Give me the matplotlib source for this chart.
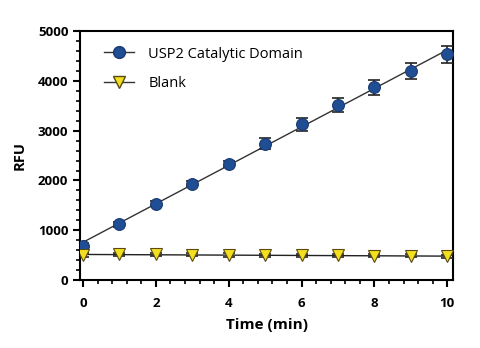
import matplotlib
matplotlib.use("Agg")
import matplotlib.pyplot as plt
import numpy as np
from matplotlib.ticker import MultipleLocator
from matplotlib.lines import Line2D

time = [0, 1, 2, 3, 4, 5, 6, 7, 8, 9, 10]
usp2 = [690, 1120, 1535, 1935, 2340, 2740, 3125, 3505, 3875, 4195, 4530]
usp2_err = [60, 50, 50, 50, 60, 110, 130, 140, 150, 160, 170]
blank = [510, 515, 515, 505, 500, 495, 495, 495, 490, 485, 480]
blank_err = [40, 30, 30, 30, 40, 30, 30, 30, 30, 30, 30]

plt.rcParams['font.family'] = ['Open Sans', 'DejaVu Sans']
fig = plt.figure(figsize=(4.8, 3.48), dpi=100)
ax = fig.add_axes([0.167, 0.195, 0.777, 0.716])

t = np.array(time, dtype=float)
p1 = np.polyfit(t, usp2, 1)
p2 = np.polyfit(t, blank, 1)
tt = np.array([0, 10])
ax.plot(tt, np.polyval(p1, tt), color='#333333', lw=1.0, zorder=2)
ax.plot(tt, np.polyval(p2, tt), color='#222222', lw=1.0, zorder=2)

ax.errorbar(time, usp2, yerr=usp2_err, fmt='none', ecolor='#222222', elinewidth=1.2, capsize=4, capthick=1.2, zorder=3)
ax.errorbar(time, blank, yerr=blank_err, fmt='none', ecolor='#222222', elinewidth=1.2, capsize=4, capthick=1.2, zorder=3)
ax.plot(time, usp2, 'o', color='#1f4e95', mec='#1a3a70', mew=0.8, ms=8.5, zorder=4)
ax.plot(time, blank, 'v', color='#f2df1f', mec='#5a4a10', mew=0.8, ms=8.5, zorder=4)

h1 = Line2D([], [], color='#333333', lw=1.0, marker='o', mfc='#1f4e95', mec='#1a3a70', ms=8.5)
h2 = Line2D([], [], color='#333333', lw=1.0, marker='v', mfc='#f2df1f', mec='#5a4a10', ms=8.5)
ax.legend([h1, h2], ['USP2 Catalytic Domain', 'Blank'], loc='upper left', frameon=False,
          fontsize=10.5, handlelength=2.0, handletextpad=1.0, labelspacing=1.0,
          bbox_to_anchor=(0.03, 0.99))

ax.set_xlim(-0.08, 10.16)
ax.set_ylim(0, 5000)
ax.xaxis.set_major_locator(MultipleLocator(2))
ax.xaxis.set_minor_locator(MultipleLocator(0.4))
ax.yaxis.set_major_locator(MultipleLocator(1000))
ax.yaxis.set_minor_locator(MultipleLocator(200))
ax.tick_params(which='major', length=5, width=1.5, labelsize=9.5)
ax.tick_params(axis='x', which='major', pad=7)
ax.tick_params(which='minor', length=3, width=1.2)
for lab in ax.get_xticklabels() + ax.get_yticklabels():
    lab.set_fontweight('bold')
for s in ax.spines.values():
    s.set_linewidth(1.5)
ax.set_xlabel('Time (min)', fontsize=11, fontweight='bold', labelpad=6)
ax.set_ylabel('RFU', fontsize=10.5, fontweight='bold', labelpad=8)
fig.savefig('out.png', dpi=100)
